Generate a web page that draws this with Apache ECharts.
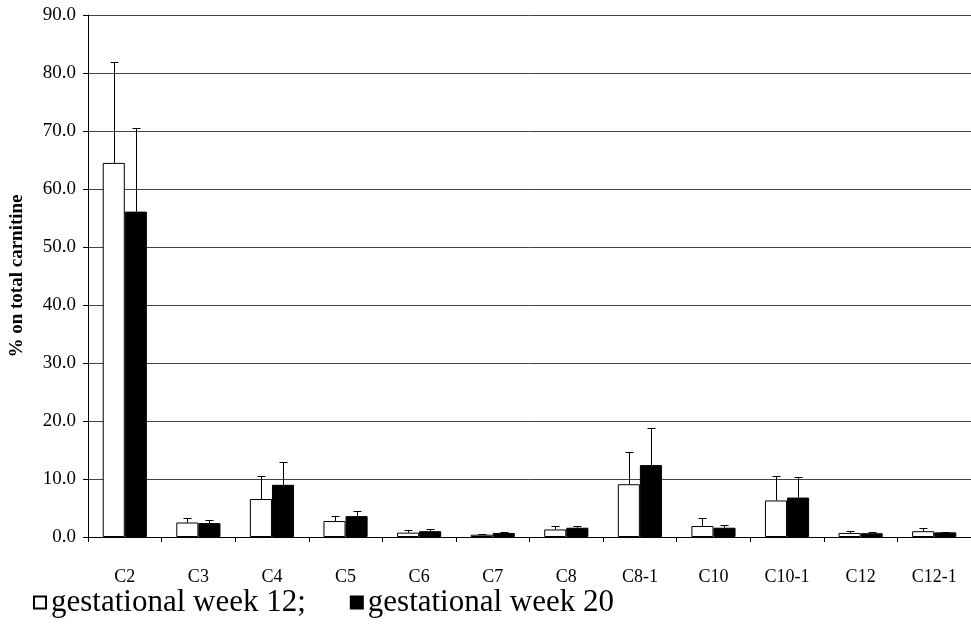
<!DOCTYPE html>
<html>
<head>
<meta charset="utf-8">
<script src="https://cdn.jsdelivr.net/npm/echarts@6/dist/echarts.min.js"></script>
<style>
html,body{margin:0;padding:0;background:#fff;}
#chart{width:971px;height:634px;}
</style>
</head>
<body>
<div id="chart"></div>
<script>
const categories = ['C2','C3','C4','C5','C6','C7','C8','C8-1','C10','C10-1','C12','C12-1'];
const week12 = [64.5, 2.5, 6.55, 2.75, 0.75, 0.4, 1.3, 9.1, 1.9, 6.3, 0.7, 1.0];
const week12Err = [81.9, 3.3, 10.5, 3.6, 1.15, 0.5, 1.95, 14.65, 3.3, 10.45, 1.1, 1.6];
const week20 = [56.1, 2.4, 9.0, 3.6, 1.0, 0.7, 1.6, 12.4, 1.6, 6.8, 0.65, 0.8];
const week20Err = [70.6, 3.0, 12.9, 4.5, 1.3, 0.8, 1.9, 18.8, 2.1, 10.4, 0.8, 0.85];
const names = ['gestational week 12', 'gestational week 20'];
const yTicks = [0, 90, 10];

const FONT = "'Liberation Serif', 'Times New Roman', serif";
const CAT_GAP = 0.4;

function errSeries(vals, tops, side) {
  return {
    type: 'custom',
    silent: true,
    z: 5,
    data: vals.map((v, i) => [i, v, tops[i]]),
    encode: { x: 0, y: [1, 2] },
    renderItem: function (params, api) {
      const i = api.value(0);
      const catW = api.size([1, 0])[0];
      const bw = catW * (1 - CAT_GAP) / 2;
      const base = api.coord([i, api.value(1)]);
      const top = api.coord([i, api.value(2)]);
      const x = Math.round(base[0] + side * bw / 2) + 0.5;
      const yt = Math.round(top[1]) + 0.5;
      const cap = 4;
      const style = { stroke: '#000', lineWidth: 1, fill: null };
      return {
        type: 'group',
        children: [
          { type: 'line', shape: { x1: x, y1: base[1], x2: x, y2: yt }, style: style },
          { type: 'line', shape: { x1: x - cap, y1: yt, x2: x + cap, y2: yt }, style: style }
        ]
      };
    }
  };
}

const chart = echarts.init(document.getElementById('chart'), null, { renderer: 'canvas' });
chart.setOption({
  animation: false,
  backgroundColor: '#fff',
  textStyle: { fontFamily: FONT },
  grid: { left: 87, top: 15, width: 887, height: 522, containLabel: false },
  legend: {
    left: 28,
    top: 582,
    icon: 'rect',
    itemWidth: 12,
    itemHeight: 12,
    itemGap: 44,
    data: names,
    selectedMode: false,
    formatter: function (n) { return n === names[0] ? n + ';' : n; },
    textStyle: { fontFamily: FONT, fontSize: 31, color: '#000' }
  },
  xAxis: {
    type: 'category',
    data: categories,
    axisLine: { lineStyle: { color: '#000', width: 1 } },
    axisTick: { show: true, length: 5, lineStyle: { color: '#000' } },
    axisLabel: { margin: 31, fontFamily: FONT, fontSize: 18, color: '#000' }
  },
  yAxis: {
    type: 'value',
    min: yTicks[0],
    max: yTicks[1],
    interval: yTicks[2],
    name: '% on total carnitine',
    nameLocation: 'middle',
    nameRotate: 90,
    nameGap: 61,
    nameTextStyle: { fontFamily: FONT, fontSize: 19, fontWeight: 'bold', color: '#000' },
    axisLine: { show: true, lineStyle: { color: '#000', width: 1 } },
    axisTick: { show: true, length: 5, lineStyle: { color: '#000' } },
    axisLabel: { margin: 12, fontFamily: FONT, fontSize: 19, color: '#000',
      formatter: function (v) { return v.toFixed(1); } },
    splitLine: { show: true, lineStyle: { color: '#444', width: 1 } }
  },
  series: [
    {
      name: names[0], type: 'bar', data: week12,
      barGap: '0%', barCategoryGap: (CAT_GAP * 100) + '%',
      itemStyle: { color: '#fff', borderColor: '#000', borderWidth: 1 }
    },
    {
      name: names[1], type: 'bar', data: week20,
      barGap: '0%', barCategoryGap: (CAT_GAP * 100) + '%',
      itemStyle: { color: '#000', borderColor: '#000', borderWidth: 1 }
    },
    errSeries(week12, week12Err, -1),
    errSeries(week20, week20Err, 1)
  ]
});
</script>
</body>
</html>
